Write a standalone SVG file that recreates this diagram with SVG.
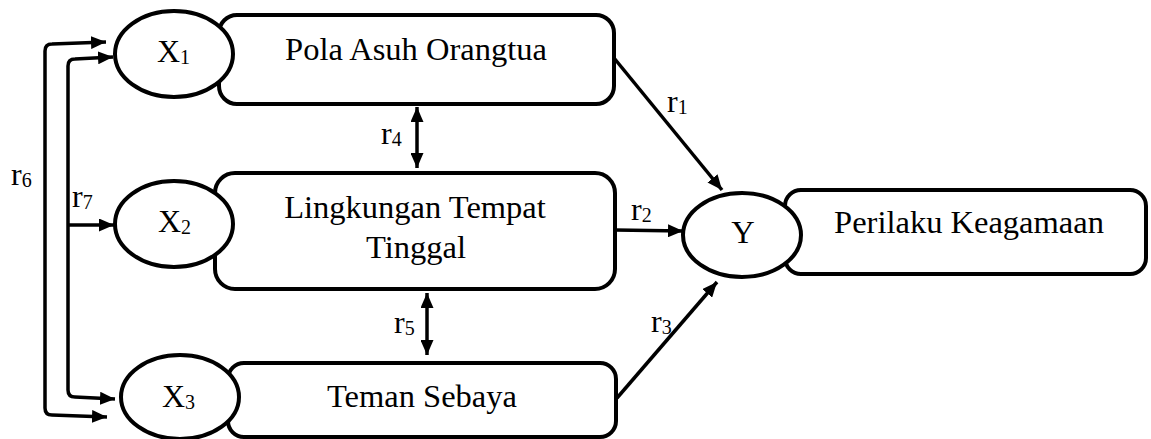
<svg xmlns="http://www.w3.org/2000/svg" width="1151" height="439" viewBox="0 0 1151 439">
<style>
.box{fill:#fff;stroke:#000;stroke-width:4}
.ell{fill:#fff;stroke:#000;stroke-width:4}
.t{font-family:"Liberation Serif","Times New Roman",serif;font-size:32.5px;fill:#000}
.lbl{font-family:"Liberation Serif","Times New Roman",serif;font-size:32px;fill:#000}
.sub{font-size:20px}
.c{fill:none;stroke:#000;stroke-width:3.5}
</style>
<defs>
<marker id="ah" viewBox="0 0 15 13" refX="15" refY="6.5" markerWidth="15" markerHeight="13" markerUnits="userSpaceOnUse" orient="auto-start-reverse">
<path d="M0,0 L15,6.5 L0,13 z" fill="#000"/>
</marker>
</defs>
<rect width="1151" height="439" fill="#fff"/>
<g id="connectors">
<path class="c" d="M106,42 L52,44 Q45,44 45,51 L45,408 Q45,415 52,415 L107,417" marker-start="url(#ah)" marker-end="url(#ah)"/>
<path class="c" d="M113,57 L75,59 Q68,59 68,66 L68,390 Q68,397 75,397 L115,399" marker-start="url(#ah)" marker-end="url(#ah)"/>
<path class="c" d="M68,225 L114,225" marker-end="url(#ah)"/>
<path class="c" d="M614,58 L722,190" marker-end="url(#ah)"/>
<path class="c" d="M615,230 L683,231" marker-end="url(#ah)"/>
<path class="c" d="M617,398 L717,282" marker-end="url(#ah)"/>
<path class="c" d="M417,107 L417,168" marker-start="url(#ah)" marker-end="url(#ah)"/>
<path class="c" d="M427,293 L427,355" marker-start="url(#ah)" marker-end="url(#ah)"/>
<text class="lbl" x="667" y="112">r<tspan class="sub" dy="2">1</tspan></text>
<text class="lbl" x="631" y="220">r<tspan class="sub" dy="2">2</tspan></text>
<text class="lbl" x="651" y="332">r<tspan class="sub" dy="2">3</tspan></text>
<text class="lbl" x="381" y="144">r<tspan class="sub" dy="2">4</tspan></text>
<text class="lbl" x="394" y="333">r<tspan class="sub" dy="2">5</tspan></text>
<text class="lbl" x="11" y="185">r<tspan class="sub" dy="2">6</tspan></text>
<text class="lbl" x="72" y="207">r<tspan class="sub" dy="2">7</tspan></text>
</g>
<g id="node-x1">
<rect class="box" x="219" y="15" width="395" height="89" rx="18"/>
<ellipse class="ell" cx="174" cy="54" rx="59" ry="43"/>
<text class="lbl" x="157" y="62">X<tspan class="sub" dy="2">1</tspan></text>
<text class="t" x="416" y="60" text-anchor="middle">Pola Asuh Orangtua</text>
</g>
<g id="node-x2">
<rect class="box" x="215" y="173" width="400" height="116" rx="20"/>
<ellipse class="ell" cx="174" cy="224" rx="59" ry="43"/>
<text class="lbl" x="158" y="232">X<tspan class="sub" dy="2">2</tspan></text>
<text class="t" x="415" y="218" text-anchor="middle">Lingkungan Tempat</text>
<text class="t" x="416" y="258" text-anchor="middle">Tinggal</text>
</g>
<g id="node-x3">
<rect class="box" x="228" y="363" width="388" height="74" rx="16"/>
<ellipse class="ell" cx="180" cy="397" rx="59" ry="42"/>
<text class="lbl" x="162" y="407">X<tspan class="sub" dy="2">3</tspan></text>
<text class="t" x="422" y="407" text-anchor="middle">Teman Sebaya</text>
</g>
<g id="node-y">
<rect class="box" x="785" y="190" width="361" height="84" rx="16"/>
<ellipse class="ell" cx="742" cy="235" rx="59" ry="42"/>
<text class="t" x="743" y="243" text-anchor="middle">Y</text>
<text class="t" x="969" y="233" text-anchor="middle">Perilaku Keagamaan</text>
</g>
</svg>
